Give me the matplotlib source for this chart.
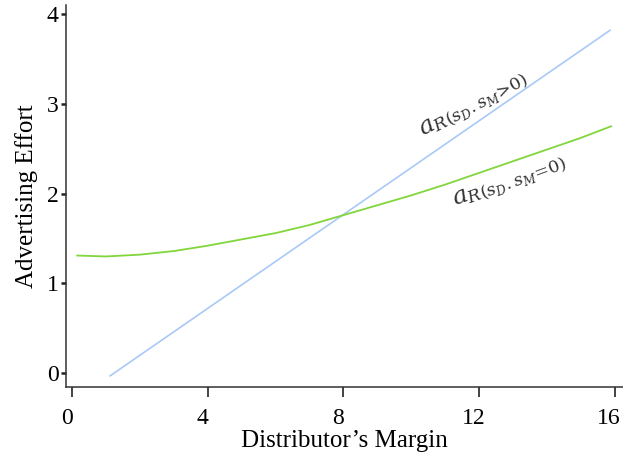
import matplotlib.pyplot as plt
import matplotlib.transforms as mtransforms
import numpy as np

# distributor's margin vs advertising effort
margin_pos = [1.12, 15.87]
effort_pos = [-0.03, 3.82]

margin_zero = [0.15, 1, 2, 3, 4, 5, 6, 7, 8, 9, 10, 11, 12, 13, 14, 15, 15.9]
effort_zero = [1.31, 1.30, 1.32, 1.36, 1.42, 1.49, 1.56, 1.65, 1.76, 1.87,
               1.98, 2.10, 2.23, 2.36, 2.49, 2.62, 2.75]

xticks = [0, 4, 8, 12, 16]
yticks = [0, 1, 2, 3, 4]

plt.rcParams['font.family'] = 'Liberation Serif'
plt.rcParams['mathtext.fontset'] = 'dejavuserif'

fig = plt.figure(figsize=(6.23, 4.62), dpi=100)
ax = fig.add_axes([0.106, 0.162, 0.894, 0.827])

ax.plot(margin_pos, effort_pos, color='#a9c9f7', lw=1.2)
ax.plot(margin_zero, effort_zero, color='#80d63a', lw=1.3)

ax.text(10.35, 2.64, r'$a_{R(s_D.s_M\!>\!0)}$', fontsize=18, rotation=28,
        color='#333333', rotation_mode='anchor')
ax.text(11.3, 1.86, r'$a_{R(s_D.s_M\!=\!0)}$', fontsize=18, rotation=20,
        color='#333333', rotation_mode='anchor')

ax.set_xlim(-0.18, 16.25)
ax.set_ylim(-0.156, 4.10)
ax.set_xticks(xticks)
ax.set_yticks(yticks)
ax.tick_params(axis='x', length=7, width=1.2, pad=8, labelsize=17, color='#222222')
ax.tick_params(axis='y', length=3.5, width=1.8, pad=2, labelsize=17, color='#222222')

# nudge the x tick labels a little left so "16" stays inside the canvas
shift = mtransforms.ScaledTranslation(-4 / 72, 0, fig.dpi_scale_trans)
for lab in ax.get_xticklabels():
    lab.set_transform(lab.get_transform() + shift)

for s in ['top', 'right']:
    ax.spines[s].set_visible(False)
for s in ['left', 'bottom']:
    ax.spines[s].set_color('#333333')
    ax.spines[s].set_linewidth(1.1)

ax.set_xlabel('Distributor\u2019s Margin', fontsize=18, labelpad=1)
ax.set_ylabel('Advertising Effort', fontsize=18, labelpad=6)

fig.savefig('out.png', dpi=100)
